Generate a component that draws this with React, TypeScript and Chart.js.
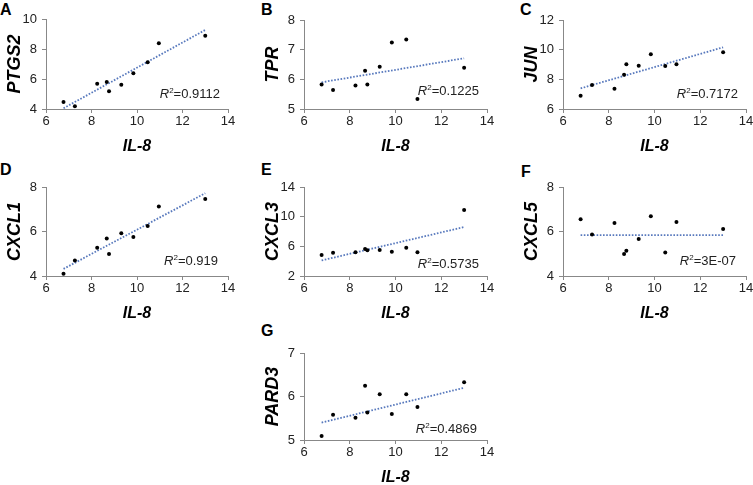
import React, { useEffect, useRef } from "react";
import { Chart, registerables } from "chart.js";

Chart.register(...registerables);

const FONT = "Arial, 'Liberation Sans', sans-serif";
Chart.defaults.font.family = FONT;

// Shared x values (IL-8 expression)
const il8 = [6.77, 7.27, 8.25, 8.67, 8.77, 9.31, 9.84, 10.47, 10.96, 13.0];

// Gene expression values
const ptgs2 = [4.47, 4.18, 5.69, 5.8, 5.18, 5.62, 6.38, 7.11, 8.38, 8.89];
const tpr = [5.83, 5.64, 5.79, 6.29, 5.83, 6.42, 7.24, 7.34, 5.34, 6.39];
const jun = [6.9, 7.62, 7.37, 8.31, 9.01, 8.92, 9.69, 8.9, 9.01, 9.82];
const cxcl1 = [4.1, 4.7, 5.27, 5.69, 4.99, 5.92, 5.75, 6.25, 7.12, 7.46];
const cxcl3 = [4.83, 5.15, 5.19, 5.64, 5.46, 5.51, 5.28, 5.82, 5.19, 10.9];
const cxcl5 = [6.55, 5.87, 6.38, 4.99, 5.14, 5.66, 6.68, 5.06, 6.43, 6.11];
const pard3 = [5.09, 5.58, 5.51, 6.25, 5.63, 6.05, 5.6, 6.05, 5.76, 6.33];

const geneNames = ["PTGS2", "TPR", "JUN", "CXCL1", "CXCL3", "CXCL5", "PARD3"];
const geneValues = [ptgs2, tpr, jun, cxcl1, cxcl3, cxcl5, pard3];
const panelLetters = ["A", "B", "C", "D", "E", "F", "G"];
const r2Labels = ["0.9112", "0.1225", "0.7172", "0.919", "0.5735", "3E-07", "0.4869"];

// Linear trendline values at min / max IL-8
const trendStart = [4.05, 5.9, 7.39, 4.32, 4.1, 5.84, 5.4];
const trendEnd = [9.27, 6.71, 10.16, 7.72, 8.6, 5.84, 6.2];

// y axis ranges
const yMin = [4, 5, 6, 4, 2, 4, 5];
const yMax = [10, 8, 12, 8, 14, 8, 7];
const yStep = [2, 1, 2, 2, 4, 2, 1];
const xMin = 6;
const xMax = 14;
const xStep = 2;

// ---- layout (pixel styles) ----
const areas = [
  { l: 46, t: 19, r: 228, b: 109 },
  { l: 304, t: 20, r: 487, b: 109 },
  { l: 563, t: 20, r: 746, b: 109 },
  { l: 46, t: 187, r: 228, b: 276 },
  { l: 304, t: 187, r: 487, b: 276 },
  { l: 563, t: 187, r: 746, b: 276 },
  { l: 304, t: 353, r: 487, b: 440 },
];
const r2Pos = [
  { dx: 8, dy: 16 },
  { dx: 8, dy: 19 },
  { dx: 8, dy: 16 },
  { dx: 10, dy: 16 },
  { dx: 8, dy: 13 },
  { dx: 10, dy: 16 },
  { dx: 10, dy: 12 },
];
const letterPos = [
  { x: 0, y: 2 },
  { x: 261, y: 2 },
  { x: 520, y: 2 },
  { x: 0, y: 162 },
  { x: 261, y: 162 },
  { x: 521, y: 164 },
  { x: 261, y: 323 },
];
const Y_W = 46;
const PAD_T = 10;
const X_H = 48;
const PAD_R = 7;

const r2Plugin = {
  id: "r2label",
  afterDatasetsDraw(chart: any, _args: any, opts: any) {
    const { ctx, chartArea } = chart;
    const size = 13;
    const fR = `italic ${size}px ${FONT}`;
    const fSup = `${size * 0.62}px ${FONT}`;
    const fMain = `${size}px ${FONT}`;
    const rest = "=" + opts.value;
    ctx.save();
    ctx.fillStyle = "#222";
    ctx.textBaseline = "alphabetic";
    ctx.font = fR;
    const wR = ctx.measureText("R").width;
    ctx.font = fSup;
    const wS = ctx.measureText("2").width;
    ctx.font = fMain;
    const wM = ctx.measureText(rest).width;
    const total = wR + wS + wM;
    let x = chartArea.right - opts.dx - total;
    const base = chartArea.bottom - opts.dy + size * 0.36;
    ctx.font = fR;
    ctx.fillText("R", x, base);
    x += wR;
    ctx.font = fSup;
    ctx.fillText("2", x, base - size * 0.38);
    x += wS;
    ctx.font = fMain;
    ctx.fillText(rest, x, base);
    ctx.restore();
  },
};

function Panel({ idx }: { idx: number }) {
  const ref = useRef<HTMLCanvasElement>(null);
  const a = areas[idx];
  const padR = Math.min(PAD_R, 753 - a.r);
  const width = a.r - a.l + Y_W + padR;
  const height = a.b - a.t + PAD_T + X_H;

  useEffect(() => {
    const ys = geneValues[idx];
    const pts = il8.map((x, i) => ({ x, y: ys[i] }));
    const lo = Math.min(...il8);
    const hi = Math.max(...il8);
    const chart = new Chart(ref.current as HTMLCanvasElement, {
      type: "scatter",
      data: {
        datasets: [
          {
            data: pts,
            pointRadius: 2,
            pointBackgroundColor: "#000",
            pointBorderWidth: 0,
            order: 0,
          },
          {
            data: [
              { x: lo, y: trendStart[idx] },
              { x: hi, y: trendEnd[idx] },
            ],
            showLine: true,
            borderColor: "#5879bd",
            borderWidth: 1.8,
            borderDash: [1.6, 1.6],
            pointRadius: 0,
            order: 1,
          },
        ],
      },
      options: {
        responsive: false,
        animation: false,
        layout: { padding: { left: 0, top: PAD_T, right: padR, bottom: 0 } },
        plugins: {
          legend: { display: false },
          tooltip: { enabled: false },
          r2label: { value: r2Labels[idx], dx: r2Pos[idx].dx, dy: r2Pos[idx].dy },
        } as any,
        scales: {
          x: {
            type: "linear",
            min: xMin,
            max: xMax,
            ticks: { stepSize: xStep, font: { size: 13 }, color: "#222", padding: 1, maxRotation: 0 },
            grid: { drawOnChartArea: false, drawTicks: true, tickLength: 4, color: "#888" },
            border: { color: "#888", width: 1 },
            title: {
              display: true,
              text: "IL-8",
              color: "#000",
              font: { size: 16, weight: "bold", style: "italic", lineHeight: 1.2 },
              padding: { top: 0, bottom: 1 },
            },
            afterFit: (s: any) => {
              s.height = X_H;
              s.paddingLeft = 0;
              s.paddingRight = 0;
            },
          },
          y: {
            type: "linear",
            min: yMin[idx],
            max: yMax[idx],
            ticks: { stepSize: yStep[idx], font: { size: 13 }, color: "#222", padding: 5 },
            grid: { drawOnChartArea: false, drawTicks: true, tickLength: 4, color: "#888" },
            border: { color: "#888", width: 1 },
            title: {
              display: true,
              text: geneNames[idx],
              color: "#000",
              font: { size: 18, weight: "bold", style: "italic", lineHeight: 1.2 },
              padding: { top: 4, bottom: 0 },
            },
            afterFit: (s: any) => {
              s.width = Y_W;
              s.paddingTop = 0;
              s.paddingBottom = 0;
            },
          },
        },
      } as any,
      plugins: [r2Plugin],
    });
    return () => chart.destroy();
  }, [idx]);

  return (
    <canvas
      ref={ref}
      width={width}
      height={height}
      style={{
        position: "absolute",
        left: a.l - Y_W,
        top: a.t - PAD_T,
        width,
        height,
      }}
    />
  );
}

export default function App() {
  return (
    <div
      style={{
        position: "fixed",
        left: 0,
        top: 0,
        width: 753,
        height: 485,
        background: "#fff",
        overflow: "hidden",
      }}
    >
      {panelLetters.map((L, i) => (
        <div
          key={L}
          style={{
            position: "absolute",
            left: letterPos[i].x,
            top: letterPos[i].y,
            font: `bold 16px ${FONT}`,
            lineHeight: 1,
            color: "#000",
          }}
        >
          {L}
        </div>
      ))}
      {geneNames.map((g, i) => (
        <Panel key={g} idx={i} />
      ))}
    </div>
  );
}
